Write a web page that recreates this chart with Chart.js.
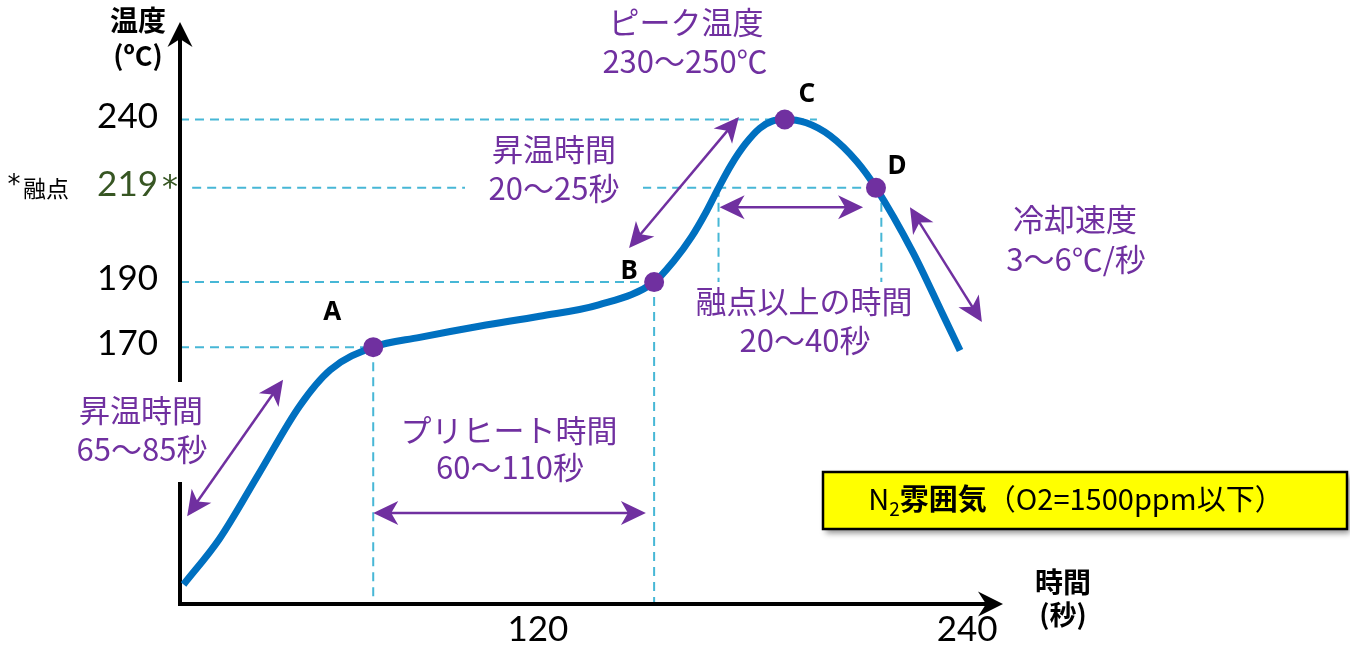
<!DOCTYPE html>
<html>
<head>
<meta charset="utf-8">
<script src="https://cdn.jsdelivr.net/npm/chart.js@4.4.1/dist/chart.umd.min.js"></script>
<style>
  html, body { margin: 0; padding: 0; background: #fff; }
  #wrap { width: 1350px; height: 651px; }
</style>
</head>
<body>
<div id="wrap"><canvas id="profile" width="1350" height="651"></canvas></div>
<script>
// reflow profile, time (s) / temperature (°C)
const curveTime = [21, 31, 42, 53.5, 62, 74, 87, 104, 120.5, 137, 152.5, 158, 163, 167, 170.5, 174, 178, 182, 185.5, 189, 195, 201.7, 209.2, 214.5, 224.9, 233.2, 238];
const curveTemp = [97, 111, 131, 152, 163, 170, 173, 176.5, 179.5, 183, 190, 196.5, 204, 211.5, 219, 226, 232.5, 237.3, 239.5, 240, 239, 235, 227, 219, 199, 180, 169];

const pointNames = ['A', 'B', 'C', 'D'];
const pointTime = [74, 152.5, 189, 214.5];
const pointTemp = [170, 190, 240, 219];

const xTicks = [120, 240];
const yTicks = [170, 190, 219, 240];
const meltTemp = 219;

// dashed guides: [t0, t1, temp] and [t, tempTop, tempBottom]
const hGuides = [[20, 198, 240], [23.4, 216, 219], [20, 152.5, 190], [20, 74, 170]];
const vGuides = [[74, 170, 91], [152.5, 190, 91], [170.5, 219, 190], [216, 219, 190]];

// double arrows [t0, temp0, t1, temp1]
const spans = [
  [22, 118, 48.8, 160],
  [74, 119, 150.2, 119],
  [145.5, 200.5, 176.2, 240.8],
  [170.8, 213, 210.9, 213],
  [224, 213, 244.1, 177.7]
];

const JP = '"Noto Sans CJK JP", sans-serif';
const PURPLE = '#7030A0';

const notes = [
  ['ピーク温度', 686, 22], ['230～250℃', 685, 61],
  ['昇温時間', 554, 149], ['20～25秒', 554, 188],
  ['冷却速度', 1075, 219], ['3～6℃/秒', 1076, 259],
  ['融点以上の時間', 804, 301], ['20～40秒', 805, 340],
  ['プリヒート時間', 509, 430], ['60～110秒', 510, 467],
  ['昇温時間', 141, 410], ['65～85秒', 142, 449]
];
const nameOffset = [[-41, -35], [-25, -11], [22, -25], [21, -21]];

function seg(ctx, x0, y0, x1, y1) {
  ctx.beginPath(); ctx.moveTo(x0, y0); ctx.lineTo(x1, y1); ctx.stroke();
}

function head(ctx, tx, ty, dx, dy, len, half, notch) {
  const nx = -dy, ny = dx;
  ctx.beginPath();
  ctx.moveTo(tx, ty);
  ctx.lineTo(tx - dx * len + nx * half, ty - dy * len + ny * half);
  ctx.lineTo(tx - dx * notch, ty - dy * notch);
  ctx.lineTo(tx - dx * len - nx * half, ty - dy * len - ny * half);
  ctx.closePath();
  ctx.fill();
}

function text(ctx, s, x, y, font, color, align) {
  ctx.font = font; ctx.fillStyle = color;
  ctx.textAlign = align || 'center'; ctx.textBaseline = 'middle';
  ctx.fillText(s, x, y);
}

const decor = {
  id: 'decor',
  beforeDatasetsDraw(chart) {
    const {ctx, chartArea: a, scales: {x, y}} = chart;
    ctx.save();
    ctx.strokeStyle = '#47B7D6'; ctx.lineWidth = 2; ctx.setLineDash([9, 6]);
    hGuides.forEach(([t0, t1, v]) => seg(ctx, x.getPixelForValue(t0), y.getPixelForValue(v), x.getPixelForValue(t1), y.getPixelForValue(v)));
    vGuides.forEach(([t, v0, v1]) => seg(ctx, x.getPixelForValue(t), y.getPixelForValue(v0), x.getPixelForValue(t), y.getPixelForValue(v1)));
    ctx.setLineDash([]);

    // axes with arrows
    ctx.strokeStyle = '#000'; ctx.fillStyle = '#000'; ctx.lineWidth = 4;
    seg(ctx, a.left, a.bottom + 2, a.left, a.top + 14);
    seg(ctx, a.left - 2, a.bottom, a.right - 14, a.bottom);
    head(ctx, a.left, a.top, 0, -1, 25, 12.5, 17);
    head(ctx, a.right, a.bottom, 1, 0, 25, 12.5, 17);

    // white backing behind two labels
    ctx.fillStyle = '#fff';
    ctx.fillRect(62, 382, 152, 100);
    ctx.fillRect(465, 128, 178, 84);
    ctx.restore();
  },
  afterDatasetsDraw(chart) {
    const {ctx, scales: {x, y}} = chart;
    ctx.save();

    // purple double arrows
    ctx.strokeStyle = PURPLE; ctx.fillStyle = PURPLE; ctx.lineWidth = 2.5;
    spans.forEach(([t0, v0, t1, v1]) => {
      const x0 = x.getPixelForValue(t0), y0 = y.getPixelForValue(v0);
      const x1 = x.getPixelForValue(t1), y1 = y.getPixelForValue(v1);
      const L = Math.hypot(x1 - x0, y1 - y0), dx = (x1 - x0) / L, dy = (y1 - y0) / L;
      seg(ctx, x0 + dx * 10, y0 + dy * 10, x1 - dx * 10, y1 - dy * 10);
      head(ctx, x1, y1, dx, dy, 25, 12, 18);
      head(ctx, x0, y0, -dx, -dy, 25, 12, 18);
    });

    notes.forEach(([s, px, py]) => text(ctx, s, px, py, `31px ${JP}`, PURPLE));

    // point names
    pointNames.forEach((n, i) => {
      const px = x.getPixelForValue(pointTime[i]) + nameOffset[i][0];
      const py = y.getPixelForValue(pointTemp[i]) + nameOffset[i][1];
      text(ctx, n, px, py, 'bold 26px "Noto Sans", sans-serif', '#000');
    });

    // axis titles
    text(ctx, '温度', 138, 20, `bold 28px ${JP}`, '#000');
    text(ctx, '(ºC)', 138, 56, `bold 27px ${JP}`, '#000');
    text(ctx, '時間', 1063, 582, `bold 28px ${JP}`, '#000');
    text(ctx, '(秒)', 1063, 615, `bold 27px ${JP}`, '#000');

    // melting point marks
    text(ctx, '*', 14, 186, '26px "DejaVu Sans", sans-serif', '#000');
    text(ctx, '融点', 23, 188, `23px ${JP}`, '#000', 'left');
    text(ctx, '*', 170, y.getPixelForValue(meltTemp) + 1, '32px "DejaVu Sans", sans-serif', '#375623');

    // atmosphere box
    ctx.save();
    ctx.shadowColor = 'rgba(0,0,0,0.45)'; ctx.shadowOffsetX = 3; ctx.shadowOffsetY = 4; ctx.shadowBlur = 6;
    ctx.fillStyle = '#FFFF00';
    ctx.fillRect(823, 472, 524, 57);
    ctx.restore();
    ctx.strokeStyle = '#000'; ctx.lineWidth = 2.5;
    ctx.strokeRect(823, 472, 524, 57);

    const parts = [
      ['N', `29px ${JP}`, 0],
      ['2', `19px ${JP}`, 6],
      ['雰囲気', `bold 29px ${JP}`, 0],
      ['（O2=1500ppm以下）', `29px ${JP}`, 0]
    ];
    let total = 0;
    parts.forEach(p => { ctx.font = p[1]; total += ctx.measureText(p[0]).width; });
    let cx = 1076 - total / 2;
    ctx.fillStyle = '#000'; ctx.textAlign = 'left'; ctx.textBaseline = 'alphabetic';
    parts.forEach(p => {
      ctx.font = p[1];
      ctx.fillText(p[0], cx, 510 + p[2]);
      cx += ctx.measureText(p[0]).width;
    });
    ctx.restore();
  }
};

const ctx = document.getElementById('profile').getContext('2d');
const profileChart = new Chart(ctx, {
  data: {
    datasets: [
      {
        type: 'line',
        data: curveTime.map((t, i) => ({x: t, y: curveTemp[i]})),
        borderColor: '#0070C0',
        borderWidth: 7,
        pointRadius: 0,
        cubicInterpolationMode: 'monotone',
        fill: false,
        order: 2
      },
      {
        type: 'scatter',
        data: pointTime.map((t, i) => ({x: t, y: pointTemp[i]})),
        backgroundColor: PURPLE,
        borderWidth: 0,
        pointRadius: 10,
        order: 1
      }
    ]
  },
  options: {
    responsive: false,
    animation: false,
    events: [],
    layout: { padding: { top: 22, right: 347, left: 0, bottom: 0 } },
    plugins: { legend: { display: false }, tooltip: { enabled: false } },
    scales: {
      x: {
        type: 'linear', min: 20, max: 250,
        grid: { display: false, drawTicks: false },
        border: { display: false },
        ticks: { autoSkip: false, color: '#000', padding: 5, font: { family: 'Lato', size: 35 } },
        afterBuildTicks: s => { s.ticks = xTicks.map(v => ({value: v})); },
        afterFit: s => { s.height = 47; s.paddingLeft = 0; s.paddingRight = 0; }
      },
      y: {
        type: 'linear', min: 91, max: 270,
        grid: { display: false, drawTicks: false },
        border: { display: false },
        ticks: {
          autoSkip: false, padding: 22, labelOffset: -3,
          color: c => (c.tick && c.tick.value === meltTemp ? '#375623' : '#000'),
          font: { family: 'Lato', size: 35 }
        },
        afterBuildTicks: s => { s.ticks = yTicks.map(v => ({value: v})); },
        afterFit: s => { s.width = 180; s.paddingTop = 0; s.paddingBottom = 0; }
      }
    }
  },
  plugins: [decor]
});
</script>
</body>
</html>
